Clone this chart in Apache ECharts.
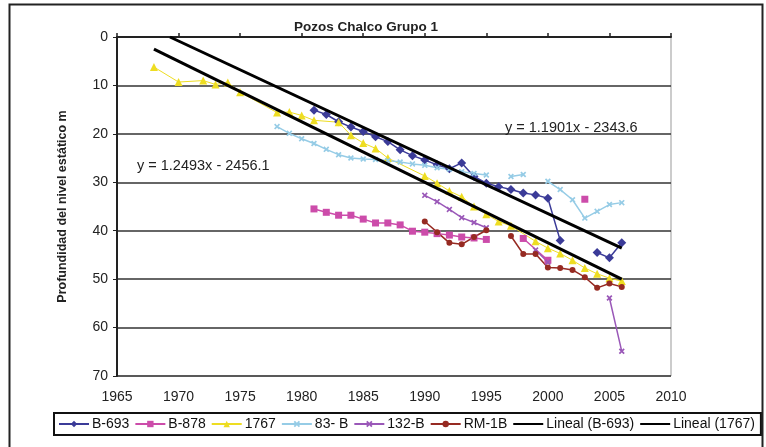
<!DOCTYPE html>
<html>
<head>
<meta charset="utf-8">
<script src="https://cdn.jsdelivr.net/npm/echarts@6/dist/echarts.min.js"></script>
<style>html,body{margin:0;padding:0;background:#fff;}#c{width:766px;height:447px;}</style>
</head>
<body>
<div id="c"></div>
<script>
const titleText = 'Pozos Chalco Grupo 1';
const yAxisName = 'Profundidad del nivel estático m';
const xTicks = [1965, 1970, 1975, 1980, 1985, 1990, 1995, 2000, 2005, 2010];
const yTicks = [0, 10, 20, 30, 40, 50, 60, 70];

const b693Years = [1981,1982,1983,1984,1985,1986,1987,1988,1989,1990,1991,1992,1993,1994,1995,1996,1997,1998,1999,2000,2001,2002,2004,2005,2006];
const b693Depth = [15.1,16.0,17.5,18.6,19.5,20.6,21.6,23.3,24.5,25.4,26.4,27.2,26.0,28.8,30.2,30.9,31.5,32.2,32.6,33.3,42.0,null,44.5,45.6,42.5];

const b878Years = [1981,1982,1983,1984,1985,1986,1987,1988,1989,1990,1991,1992,1993,1994,1995,1996,1998,2000,2001,2003];
const b878Depth = [35.5,36.2,36.8,36.8,37.6,38.4,38.4,38.8,40.1,40.3,40.6,40.9,41.3,41.5,41.8,null,41.6,46.1,null,33.5];

const y1767Years = [1968,1970,1972,1973,1974,1975,1978,1979,1980,1981,1983,1984,1985,1986,1987,1990,1991,1992,1993,1994,1995,1996,1997,1999,2000,2001,2002,2003,2004,2005,2006];
const y1767Depth = [6.2,9.3,9.0,9.8,9.4,11.4,15.6,15.5,16.2,17.2,17.6,20.3,21.9,23.0,25.0,28.7,30.2,31.8,33.0,35.0,36.6,38.1,39.0,42.2,43.6,44.7,46.1,47.7,48.9,49.8,50.4];

const b83Years = [1978,1979,1980,1981,1982,1983,1984,1985,1986,1987,1988,1989,1990,1991,1992,1993,1994,1995,1996,1997,1998,1999,2000,2001,2002,2003,2004,2005,2006];
const b83Depth = [18.5,19.9,21.0,22.0,23.2,24.3,25.0,25.2,25.3,25.5,25.8,26.2,26.5,27.0,27.3,27.8,28.2,28.5,null,28.8,28.4,null,29.8,31.5,33.6,37.4,36.0,34.6,34.2];

const b132Years = [1990,1991,1992,1993,1994,1995,1996,1999,2000,2001,2005,2006];
const b132Depth = [32.7,34.0,35.6,37.3,38.3,39.4,null,44.0,46.5,null,53.9,64.9];

const rm1bYears = [1990,1991,1992,1993,1994,1995,1996,1997,1998,1999,2000,2001,2002,2003,2004,2005,2006];
const rm1bDepth = [38.1,40.3,42.5,42.8,41.3,39.9,null,41.1,44.8,44.8,47.6,47.7,48.1,49.6,51.8,50.9,51.6];

const trendB693Years = [1969.3, 2006];
const trendB693Depth = [0, 43.6];
const trend1767Years = [1968, 2006];
const trend1767Depth = [2.5, 50.0];

const eqB693 = 'y = 1.1901x - 2343.6';
const eq1767 = 'y = 1.2493x - 2456.1';

function pairs(xs, ys) { return xs.map((x, i) => [x, ys[i]]); }

const xMark = 'path://M2,0L5,3L8,0L10,2L7,5L10,8L8,10L5,7L2,10L0,8L3,5L0,2Z';

function dataSeries(name, xs, ys, color, symbol, size, lw) {
  return {
    name: name, type: 'line', data: pairs(xs, ys), connectNulls: false,
    symbol: symbol, symbolSize: size, showSymbol: true,
    lineStyle: { color: color, width: lw || 1.5 },
    itemStyle: { color: color, borderWidth: 0 },
    emphasis: { disabled: true }, animation: false, z: 3
  };
}
function trendSeries(name, xs, ys) {
  return {
    name: name, type: 'line', data: pairs(xs, ys), symbol: 'none',
    lineStyle: { color: '#000', width: 3 }, itemStyle: { color: '#000' },
    emphasis: { disabled: true }, animation: false, z: 4
  };
}

const chart = echarts.init(document.getElementById('c'), null, { renderer: 'canvas' });
const font = '"Liberation Sans", Arial, sans-serif';
chart.setOption({
  backgroundColor: '#fff',
  animation: false,
  textStyle: { fontFamily: font },
  title: {
    text: titleText, left: 289, top: 15,
    textStyle: { fontFamily: font, fontSize: 13.5, fontWeight: 'bold', color: '#222' }
  },
  grid: { left: 117, right: 95, top: 37, bottom: 71, show: true, borderColor: '#999', borderWidth: 1, backgroundColor: 'transparent' },
  xAxis: {
    type: 'value', min: xTicks[0], max: xTicks[xTicks.length - 1], interval: 5,
    axisLine: { lineStyle: { color: '#222', width: 2 } },
    axisTick: { show: true, inside: true, length: 4, lineStyle: { color: '#222', width: 1.5 } },
    axisLabel: { fontSize: 14, color: '#222', margin: 14, fontFamily: font, formatter: v => String(v) },
    splitLine: { show: false }
  },
  yAxis: {
    type: 'value', inverse: true, min: yTicks[0], max: yTicks[yTicks.length - 1], interval: 10,
    name: yAxisName, nameLocation: 'middle', nameGap: 48, nameRotate: 90,
    nameTextStyle: { fontSize: 12.5, fontWeight: 'bold', color: '#222', fontFamily: font },
    axisLine: { show: true, lineStyle: { color: '#222', width: 2 } },
    axisTick: { show: true, length: 4, lineStyle: { color: '#222' } },
    axisLabel: { fontSize: 14, color: '#222', margin: 9, fontFamily: font },
    splitLine: { show: true, lineStyle: { color: '#333', width: 1.5 } }
  },
  legend: {
    left: 54, top: 413, orient: 'horizontal',
    padding: [4, 6, 4, 4], itemGap: 5, itemWidth: 30, itemHeight: 8,
    borderColor: '#111', borderWidth: 2, backgroundColor: '#fff',
    textStyle: { fontSize: 14, color: '#111', fontFamily: font, padding: [0, 0, 0, -2] },
    data: ['B-693', 'B-878', '1767', '83- B', '132-B', 'RM-1B',
      { name: 'Lineal (B-693)', itemStyle: { opacity: 0 } },
      { name: 'Lineal (1767)', itemStyle: { opacity: 0 } }]
  },
  graphic: [
    { type: 'rect', shape: { x: 9.5, y: 4.5, width: 753, height: 460 }, style: { fill: 'none', stroke: '#222', lineWidth: 2 }, z: -1, silent: true },
    { type: 'text', left: 505, top: 120, style: { text: eqB693, font: '14.5px ' + font, fill: '#222' }, z: 10 },
    { type: 'text', left: 137, top: 158, style: { text: eq1767, font: '14.5px ' + font, fill: '#222' }, z: 10 }
  ],
  series: [
    dataSeries('B-693', b693Years, b693Depth, '#3b3b98', 'diamond', 9),
    dataSeries('B-878', b878Years, b878Depth, '#cc4caa', 'rect', 7),
    dataSeries('1767', y1767Years, y1767Depth, '#eedd22', 'triangle', 8, 1),
    dataSeries('83- B', b83Years, b83Depth, '#96cce6', xMark, 6),
    dataSeries('132-B', b132Years, b132Depth, '#9a58b8', xMark, 6),
    dataSeries('RM-1B', rm1bYears, rm1bDepth, '#962a22', 'circle', 6),
    trendSeries('Lineal (B-693)', trendB693Years, trendB693Depth),
    trendSeries('Lineal (1767)', trend1767Years, trend1767Depth)
  ]
});
</script>
</body>
</html>
